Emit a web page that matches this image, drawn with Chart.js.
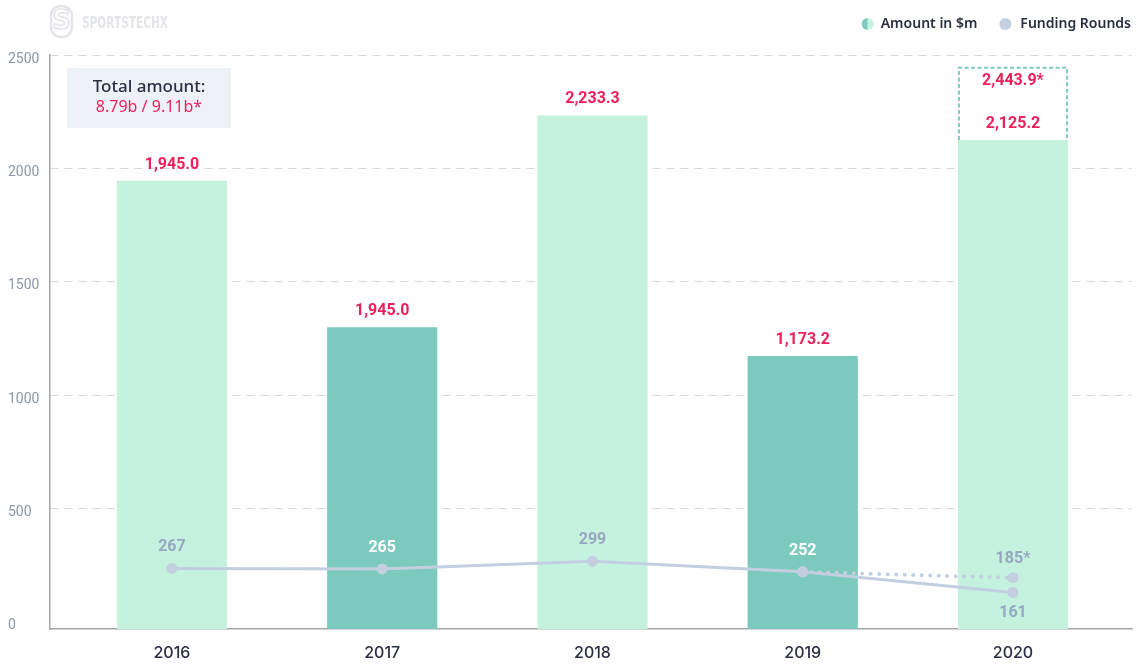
<!DOCTYPE html>
<html><head><meta charset="utf-8">
<style>html,body{margin:0;padding:0;background:#fff;}#wrap{width:1139px;height:665px;position:relative}</style>
<script src="https://cdn.jsdelivr.net/npm/chart.js@4.4.1/dist/chart.umd.min.js"></script>
</head><body><div id="wrap"><canvas id="c" width="1139" height="665"></canvas></div>
<script>
// ---- data ----
const years = ['2016', '2017', '2018', '2019', '2020'];
const amounts = [1945.0, 1300, 2233.3, 1173.2, 2125.2];
const amountLabels = ['1,945.0', '1,945.0', '2,233.3', '1,173.2', '2,125.2'];
const projectedAmount = [null, null, null, null, 2443.9];
const projectedAmountLabels = ['', '', '', '', '2,443.9*'];
const rounds = [267, 265, 299, 252, 161];
const roundLabels = ['267', '265', '299', '252', '161'];
const projectedRounds = [null, null, null, 252, 226];
const projectedRoundLabels = ['', '', '', '', '185*'];
const yTicks = [0, 500, 1000, 1500, 2000, 2500];
const legendLabels = ['Amount in $m', 'Funding Rounds'];
const totalTitle = 'Total amount:';
const totalValue = '8.79b / 9.11b*';
const brand = 'SPORTSTECHX';

// ---- styles ----
const LIGHT = '#c4f2de', DARK = '#7ccabd', CRIMSON = '#ee1f5a', LINE = '#c3cfe1', LINE_TXT = '#98a6c2', INK = '#2b2f42';
const Y_MIN = -31;
const barColor = (i) => (i % 2 === 1 ? DARK : LIGHT);

const pts = (arr) => arr.map((v, i) => ({x: i, y: v})).filter(p => p.y !== null);

const decor = {
  id: 'decor',
  afterDatasetsDraw(chart) {
    const ctx = chart.ctx;
    ctx.save();
    // projected dashed box
    const pm = chart.getDatasetMeta(3);
    pm.data.forEach((el, k) => {
      const idx = pm._parsed[k].x;
      const half = el.width / 2;
      const l = el.x - half + 1, r = el.x + half - 1, t = el.y, b = el.base;
      ctx.strokeStyle = DARK; ctx.lineWidth = 2; ctx.setLineDash([4, 2.5]);
      ctx.beginPath(); ctx.moveTo(l, b); ctx.lineTo(l, t); ctx.lineTo(r, t); ctx.lineTo(r, b); ctx.stroke();
      ctx.setLineDash([]);
      ctx.fillStyle = CRIMSON; ctx.font = 'bold 16px Roboto'; ctx.textAlign = 'center'; ctx.textBaseline = 'middle';
      ctx.fillText(projectedAmountLabels[idx], el.x, t + 13);
    });
    // bar labels
    const bm = chart.getDatasetMeta(2);
    ctx.fillStyle = CRIMSON; ctx.font = 'bold 16px Roboto'; ctx.textAlign = 'center'; ctx.textBaseline = 'middle';
    bm.data.forEach((el, i) => ctx.fillText(amountLabels[i], el.x, el.y - 16));
    // line labels
    const lm = chart.getDatasetMeta(0);
    lm.data.forEach((el, i) => {
      ctx.fillStyle = i % 2 === 1 ? '#ffffff' : LINE_TXT;
      const below = i === rounds.length - 1;
      ctx.fillText(roundLabels[i], el.x, below ? el.y + 21 : el.y - 21);
    });
    const plm = chart.getDatasetMeta(1);
    plm.data.forEach((el, k) => {
      const idx = plm._parsed[k].x;
      if (!projectedRoundLabels[idx]) return;
      ctx.fillStyle = LINE_TXT;
      ctx.fillText(projectedRoundLabels[idx], el.x, el.y - 19);
    });
    ctx.restore();
  },
  afterDraw(chart) {
    const ctx = chart.ctx, ca = chart.chartArea;
    ctx.save();
    // total box
    const bx = ca.left + 17, by = ca.top + 13, bw = 164, bh = 60;
    ctx.fillStyle = '#eef2f8'; ctx.fillRect(bx, by, bw, bh);
    ctx.textAlign = 'center'; ctx.textBaseline = 'middle';
    ctx.fillStyle = INK; ctx.font = '500 17px "Noto Sans"';
    ctx.fillText(totalTitle, bx + bw / 2, by + 19);
    ctx.fillStyle = CRIMSON; ctx.font = '16px "Noto Sans"';
    ctx.fillText(totalValue, bx + bw / 2, by + 39);
    // legend (right aligned)
    ctx.font = '600 14px "Noto Sans"'; ctx.textAlign = 'left'; ctx.fillStyle = INK;
    const ly = 24, right = 1131;
    const w2 = ctx.measureText(legendLabels[1]).width;
    const t2x = right - w2;
    ctx.fillText(legendLabels[1], t2x, ly);
    ctx.fillStyle = LINE; ctx.beginPath(); ctx.arc(t2x - 15, ly, 6, 0, Math.PI * 2); ctx.fill();
    const w1 = ctx.measureText(legendLabels[0]).width;
    const t1x = t2x - 43 - w1;
    ctx.fillStyle = INK; ctx.fillText(legendLabels[0], t1x, ly);
    const cx = t1x - 13;
    ctx.fillStyle = DARK; ctx.beginPath(); ctx.arc(cx, ly, 6, Math.PI / 2, Math.PI * 1.5); ctx.fill();
    ctx.fillStyle = LIGHT; ctx.beginPath(); ctx.arc(cx, ly, 6, -Math.PI / 2, Math.PI / 2); ctx.fill();
    // brand logo
    ctx.strokeStyle = '#e3e5e8'; ctx.lineWidth = 2.5;
    ctx.beginPath(); ctx.roundRect(51, 6, 21, 31, 10); ctx.stroke();
    ctx.font = 'bold 26px "DejaVu Sans"'; ctx.textAlign = 'center'; ctx.lineWidth = 1.6;
    ctx.strokeText('S', 61.5, 22);
    ctx.fillStyle = '#e3e5e8'; ctx.textAlign = 'left';
    ctx.font = 'bold 16px "DejaVu Sans Condensed"';
    ctx.fillText(brand, 82, 24, 86);
    ctx.restore();
  }
};

new Chart(document.getElementById('c'), {
  data: {
    datasets: [
      {
        type: 'line', label: legendLabels[1], data: pts(rounds), yAxisID: 'y2', order: 0,
        borderColor: LINE, borderWidth: 3, pointRadius: 5.5, pointBackgroundColor: LINE,
        pointBorderWidth: 0, tension: 0
      },
      {
        type: 'line', label: 'projected rounds', data: pts(projectedRounds), yAxisID: 'y2', order: 1,
        borderColor: LINE, borderWidth: 4, borderDash: [0, 8.5], borderCapStyle: 'round',
        pointRadius: 5.5, pointBackgroundColor: LINE, pointBorderWidth: 0, tension: 0
      },
      {
        type: 'bar', label: legendLabels[0], data: pts(amounts), yAxisID: 'y', order: 2, base: Y_MIN,
        backgroundColor: (c) => barColor(c.dataIndex), borderWidth: 0,
        grouped: false, categoryPercentage: 1, barPercentage: 0.524
      },
      {
        type: 'bar', label: 'projected amount',
        data: projectedAmount.map((v, i) => ({x: i, y: v === null ? null : [amounts[i], v]})).filter(p => p.y !== null),
        yAxisID: 'y', order: 3, backgroundColor: 'rgba(0,0,0,0)', borderWidth: 0,
        grouped: false, categoryPercentage: 1, barPercentage: 0.524
      }
    ]
  },
  options: {
    responsive: false, animation: false,
    layout: {padding: {left: 8, right: 7, top: 55, bottom: 0}},
    plugins: {legend: {display: false}, tooltip: {enabled: false}},
    scales: {
      x: {
        type: 'linear', min: -0.58, max: 4.566, offset: false,
        afterBuildTicks: (s) => { s.ticks = years.map((_, i) => ({value: i})); },
        afterFit: (s) => { s.height = 36; },
        ticks: {callback: (v) => years[v] ?? '', color: INK, font: {family: 'Inter', size: 16, weight: '500'}, padding: 15, autoSkip: false, maxRotation: 0},
        grid: {display: false, drawTicks: false, offset: false},
        border: {display: true, color: '#a5a5a5', width: 1.5}
      },
      y: {
        position: 'left', min: Y_MIN, max: 2500,
        afterBuildTicks: (s) => { s.ticks = yTicks.map(v => ({value: v})); },
        afterFit: (s) => { s.width = 42; },
        ticks: {callback: (v) => String(v), color: '#8d96a8', font: {family: 'Roboto', size: 14}, crossAlign: 'far', labelOffset: 4},
        grid: {drawTicks: false, color: (c) => (c.tick && c.tick.value === 0 ? 'rgba(0,0,0,0)' : '#d8d8d8'), lineWidth: 1},
        border: {display: true, color: '#a5a5a5', width: 1.5, dash: [8, 6]}
      },
      y2: {display: false, min: 0, max: 2531}
    }
  },
  plugins: [decor]
});
</script>
</body></html>
